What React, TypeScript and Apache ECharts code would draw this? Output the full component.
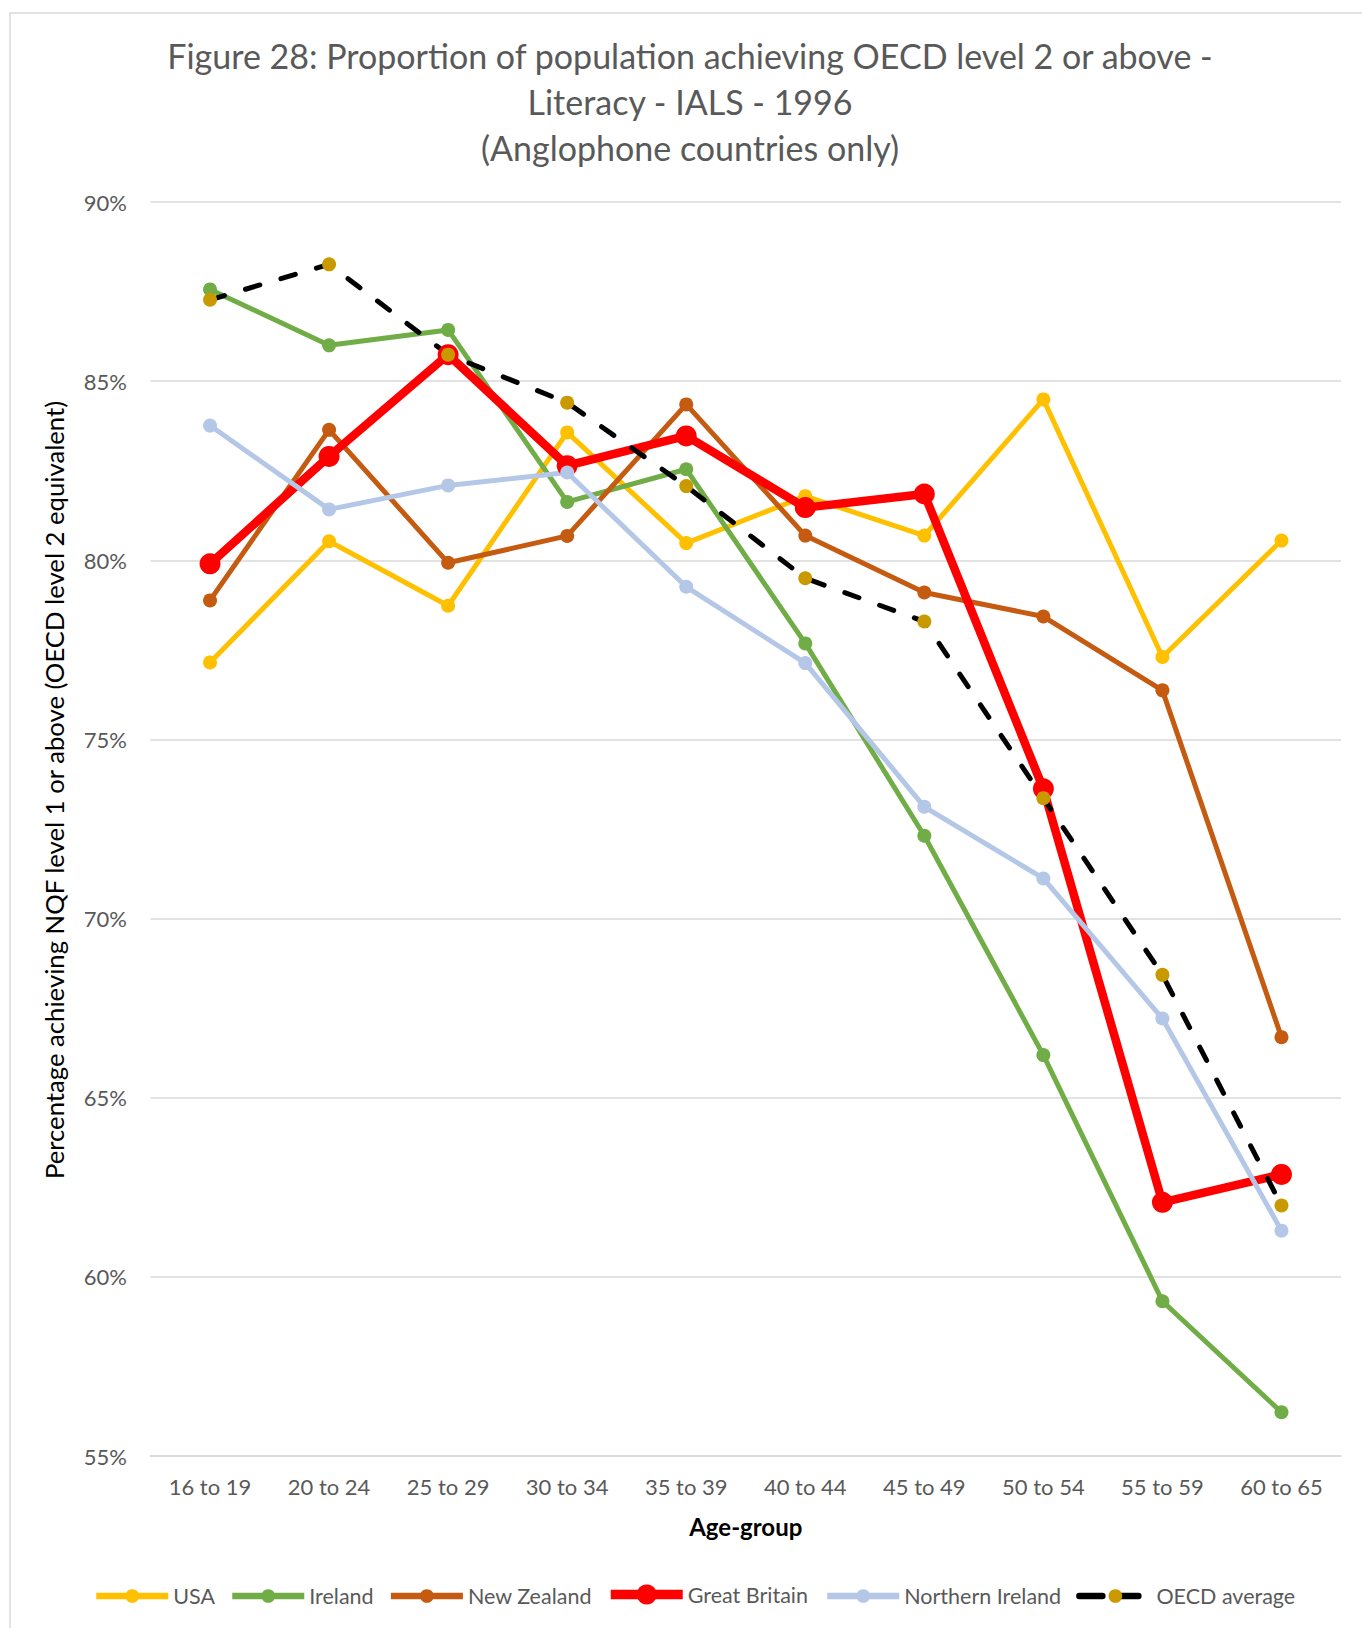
import React, { useEffect, useRef } from "react";
import * as echarts from "echarts";

const ageGroups = ["16 to 19", "20 to 24", "25 to 29", "30 to 34", "35 to 39", "40 to 44", "45 to 49", "50 to 54", "55 to 59", "60 to 65"];
const usa = [77.15, 80.53, 78.73, 83.57, 80.48, 81.79, 80.69, 84.49, 77.3, 80.55];
const ireland = [87.56, 86.0, 86.43, 81.63, 82.54, 77.68, 72.31, 66.19, 59.32, 56.22];
const newZealand = [78.88, 83.64, 79.93, 80.68, 84.35, 80.69, 79.1, 78.43, 76.37, 66.69];
const greatBritain = [79.9, 82.9, 85.74, 82.64, 83.47, 81.47, 81.85, 73.62, 62.08, 62.86];
const northernIreland = [83.76, 81.42, 82.09, 82.45, 79.26, 77.13, 73.12, 71.12, 67.21, 61.29];
const oecdAverage = [87.27, 88.26, 85.74, 84.4, 82.07, 79.5, 78.29, 73.36, 68.43, 61.99];
const yTicks = { min: 55, max: 90, interval: 5 };

const titleText =
  "Figure 28: Proportion of population achieving OECD level 2 or above -\nLiteracy - IALS - 1996\n(Anglophone countries only)";
const yTitle = "Percentage achieving NQF level 1 or above (OECD level 2 equivalent)";
const xTitle = "Age-group";

const FONT = "Lato, 'Open Sans', sans-serif";

export default function App() {
  const ref = useRef<HTMLDivElement>(null);

  useEffect(() => {
    if (!ref.current) return;
    const chart = echarts.init(ref.current, undefined, { renderer: "svg" });

    const lineSeries = (name: string, data: number[], color: string, width: number, size: number) => ({
      name,
      type: "line",
      data,
      symbol: "circle",
      symbolSize: size,
      itemStyle: { color },
      lineStyle: { color, width },
      emphasis: { disabled: true },
    });

    const legendText = { color: "#595959", fontSize: 21.5, fontFamily: FONT };

    chart.setOption({
      animation: false,
      backgroundColor: "#ffffff",
      textStyle: { fontFamily: FONT },
      title: {
        text: titleText,
        left: 690,
        top: 33,
        padding: 0,
        textAlign: "center",
        textStyle: {
          color: "#595959",
          fontSize: 34,
          fontWeight: "normal",
          lineHeight: 45.7,
          fontFamily: FONT,
        },
      },
      graphic: [
        {
          type: "rect",
          silent: true,
          z: -10,
          shape: { x: 10, y: 13, width: 1400, height: 1700 },
          style: { fill: "none", stroke: "#d9d9d9", lineWidth: 1.5 },
        },
        {
          type: "text",
          x: 54,
          y: 790,
          rotation: Math.PI / 2,
          style: {
            text: yTitle,
            fill: "#000000",
            fontSize: 25.7,
            fontFamily: FONT,
            textAlign: "center",
            textVerticalAlign: "middle",
          },
        },
      ],
      legend: [
        {
          data: [
            { name: "USA", lineStyle: { width: 6.5 } },
            { name: "Ireland", lineStyle: { width: 6.5 } },
            { name: "New Zealand", lineStyle: { width: 6.5 } },
          ],
          left: 93,
          top: 1585,
          padding: 0,
          itemWidth: 72,
          itemHeight: 17,
          itemGap: 14,
          textStyle: legendText,
          selectedMode: false,
        },
        {
          data: [{ name: "Great Britain", lineStyle: { width: 9.5 } }],
          left: 606,
          top: 1583.5,
          padding: 0,
          itemWidth: 72,
          itemHeight: 25,
          itemGap: 14,
          textStyle: legendText,
          selectedMode: false,
        },
        {
          data: [
            { name: "Northern Ireland", lineStyle: { width: 6.5 } },
            { name: "OECD average", lineStyle: { width: 6.5, type: [23, 13], cap: "round" } },
          ],
          left: 824,
          top: 1585,
          padding: 0,
          itemWidth: 72,
          itemHeight: 17,
          itemGap: 15,
          textStyle: legendText,
          selectedMode: false,
        },
      ],
      grid: { left: 150.5, right: 21, top: 202, bottom: 172, containLabel: false },
      xAxis: {
        type: "category",
        data: ageGroups,
        boundaryGap: true,
        axisLine: { show: true, lineStyle: { color: "#d9d9d9", width: 1.5 } },
        axisTick: { show: false },
        axisLabel: { color: "#595959", fontSize: 22, fontFamily: FONT, margin: 19 },
        name: xTitle,
        nameLocation: "middle",
        nameGap: 58,
        nameTextStyle: { color: "#000000", fontSize: 24, fontWeight: "bold", fontFamily: FONT },
      },
      yAxis: {
        type: "value",
        min: yTicks.min,
        max: yTicks.max,
        interval: yTicks.interval,
        axisLine: { show: false },
        axisTick: { show: false },
        axisLabel: { color: "#595959", fontSize: 22, fontFamily: FONT, margin: 23.5, formatter: "{value}%" },
        splitLine: { show: true, lineStyle: { color: "#d9d9d9", width: 1.5 } },
      },
      series: [
        lineSeries("USA", usa, "#FFC000", 5, 14),
        lineSeries("Ireland", ireland, "#70AD47", 5, 14),
        lineSeries("New Zealand", newZealand, "#C55A11", 5, 14),
        lineSeries("Great Britain", greatBritain, "#FF0000", 8.5, 21),
        lineSeries("Northern Ireland", northernIreland, "#B4C7E7", 5, 14),
        {
          name: "OECD average",
          type: "line",
          data: oecdAverage,
          symbol: "circle",
          symbolSize: 14,
          itemStyle: { color: "#C99A00" },
          lineStyle: { color: "#000000", width: 5, type: [15, 22], cap: "round" },
          emphasis: { disabled: true },
        },
      ],
    });

    return () => chart.dispose();
  }, []);

  return (
    <div
      ref={ref}
      style={{ position: "absolute", left: 0, top: 0, width: 1362, height: 1628 }}
    />
  );
}
